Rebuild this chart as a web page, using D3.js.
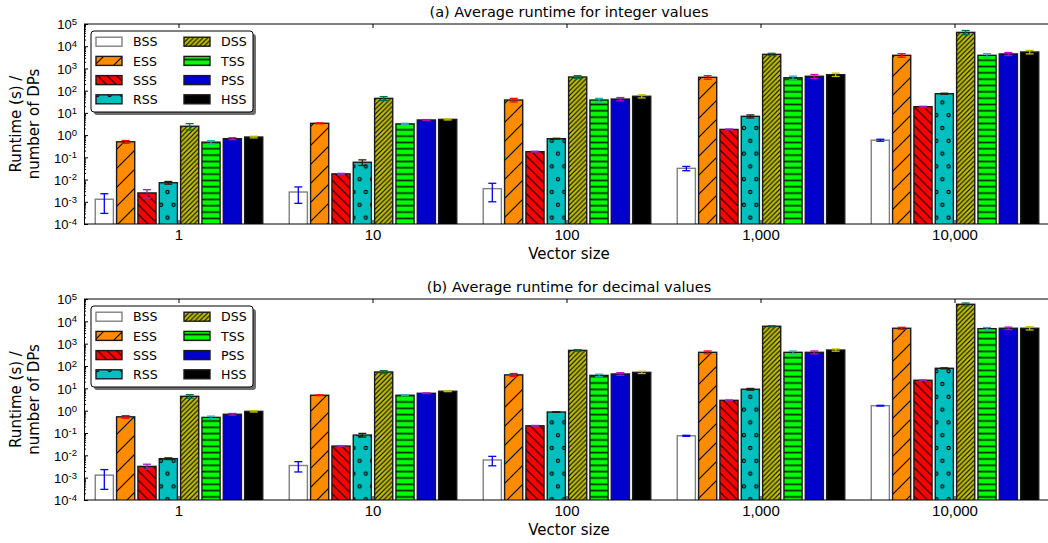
<!DOCTYPE html>
<html>
<head>
<meta charset="utf-8">
<script src="https://cdn.jsdelivr.net/npm/d3@7"></script>
<style>
  body { margin: 0; background: #fff; }
  svg { display: block; font-family: "DejaVu Sans", sans-serif; }
</style>
</head>
<body>
<div id="chart"></div>
<script>
const sizes = ["1", "10", "100", "1,000", "10,000"];
const methods = ["BSS", "ESS", "SSS", "RSS", "DSS", "TSS", "PSS", "HSS"];
const fills = ["#ffffff", "#ff8c00", "#ff0000", "#00bfbf", "#bfbf00", "#00ff00", "#0000cd", "#000000"];
const errColors = ["#0000ff", "#ff0000", "#a020c0", "#222200", "#007040", "#20b0b0", "#c000c0", "#c0c000"];
const hatches = ["", "/", "\\", "o", "////", "-", "", ""];

// one row per method (BSS..HSS), one column per vector size
const intMean = [
  [1.3e-3, 2.75e-3, 3.9e-3, 0.032, 0.59],
  [0.50, 3.4, 38, 400, 3900],
  [2.5e-3, 0.018, 0.18, 1.8, 19],
  [7.2e-3, 0.060, 0.69, 7.0, 73],
  [2.5, 45, 412, 4300, 42000],
  [0.48, 3.2, 38, 380, 3900],
  [0.69, 4.8, 42, 445, 4500],
  [0.82, 5.1, 56, 525, 5500]
];
const intErr = [
  [1.0e-3, 1.9e-3, 2.9e-3, 0.007, 0.06],
  [0.07, 0.15, 7, 70, 700],
  [1.0e-3, 0.001, 0.008, 0.08, 0.8],
  [1.0e-3, 0.017, 0.03, 1.1, 4],
  [0.8, 9, 60, 500, 9000],
  [0.08, 0.2, 7, 70, 700],
  [0.07, 0.2, 7, 90, 700],
  [0.07, 0.3, 9, 90, 1000]
];
const decMean = [
  [1.3e-3, 3.5e-3, 6.2e-3, 0.075, 1.67],
  [0.53, 4.9, 40, 410, 4900],
  [3.2e-3, 0.026, 0.21, 2.9, 23],
  [7.1e-3, 0.081, 0.87, 9.1, 79],
  [4.4, 54, 500, 6000, 58000],
  [0.50, 4.9, 38, 410, 4700],
  [0.69, 6.0, 44, 410, 4900],
  [0.93, 7.4, 52, 520, 4900]
];
const decErr = [
  [1.0e-3, 1.7e-3, 2.8e-3, 0.004, 0.06],
  [0.07, 0.2, 6, 60, 500],
  [0.8e-3, 0.001, 0.008, 0.1, 0.8],
  [0.6e-3, 0.015, 0.03, 0.8, 4],
  [0.8, 8, 40, 400, 8000],
  [0.07, 0.2, 5, 60, 600],
  [0.06, 0.2, 6, 60, 600],
  [0.06, 0.3, 6, 60, 800]
];
const exps = d3.range(-4, 6);

const width = 1048, height = 543;
const left = 84, right = 1054;

const svg = d3.select("#chart").append("svg")
    .attr("width", width).attr("height", height);
const defs = svg.append("defs");

// hatch patterns, drawn in page space so they run on across bars like matplotlib
methods.forEach((m, i) => {
    const h = hatches[i];
    if (!h) return;
    let w = 10, ht = 10;
    if (h === "/") { w = ht = 19; }
    if (h === "\\") { w = ht = 9.5; }
    if (h === "////") { w = ht = 4.75; }
    if (h === "-") { w = 10; ht = 6.33; }
    if (h === "o") { w = 12.4; ht = 25.6; }
    const p = defs.append("pattern").attr("id", "hatch-" + m)
        .attr("patternUnits", "userSpaceOnUse").attr("width", w).attr("height", ht);
    p.append("rect").attr("width", w).attr("height", ht).attr("fill", fills[i]);
    if (h === "/" || h === "////") {
        p.append("path").attr("d", `M0,${ht} L${w},0 M-2,2 L2,-2 M${w - 2},${ht + 2} L${w + 2},${ht - 2}`)
            .attr("stroke", "#000").attr("stroke-width", 1.1);
    } else if (h === "\\") {
        p.append("path").attr("d", `M0,0 L${w},${ht} M-2,${ht - 2} L2,${ht + 2} M${w - 2},-2 L${w + 2},2`)
            .attr("stroke", "#000").attr("stroke-width", 1.1);
    } else if (h === "-") {
        p.append("line").attr("x1", 0).attr("x2", w).attr("y1", 3.2).attr("y2", 3.2)
            .attr("stroke", "#062806").attr("stroke-width", 1.7);
    } else if (h === "o") {
        [[0, 0], [w, 0], [0, ht], [w, ht], [w / 2, ht / 2]].forEach(([cx, cy]) =>
            p.append("circle").attr("cx", cx).attr("cy", cy).attr("r", 1.6)
                .attr("fill", "none").attr("stroke", "#000").attr("stroke-width", 1.1));
    }
});

const fillOf = i => hatches[i] ? `url(#hatch-${methods[i]})` : fills[i];
const edgeOf = i => i === 0 ? "#808080" : "#1a1a1a";

const x0 = d3.scaleBand().domain(sizes).range([left - 2, right - 2]).paddingInner(0.12).paddingOuter(0.06);
const x1 = d3.scaleBand().domain(methods).range([0, x0.bandwidth()]).paddingInner(0.15).paddingOuter(0.075);

function drawPanel(top, bottom, title, means, errs, tag) {
    const y = d3.scaleLog().domain([1e-4, 1e5]).range([bottom, top]);
    const g = svg.append("g");

    defs.append("clipPath").attr("id", "clip-" + tag)
        .append("rect").attr("x", left).attr("y", top).attr("width", right - left).attr("height", bottom - top);

    const rows = sizes.flatMap((s, j) => methods.map((m, i) => ({ s, m, i, v: means[i][j], e: errs[i][j] })));

    const plot = g.append("g").attr("clip-path", `url(#clip-${tag})`);
    plot.selectAll("rect.bar").data(rows).enter().append("rect").attr("class", "bar")
        .attr("x", d => x0(d.s) + x1(d.m))
        .attr("y", d => y(d.v))
        .attr("width", x1.bandwidth())
        .attr("height", d => bottom - y(d.v) + 3)
        .attr("fill", d => fillOf(d.i))
        .attr("stroke", d => edgeOf(d.i))
        .attr("stroke-width", 1.4);

    const eb = plot.selectAll("g.err").data(rows).enter().append("g").attr("class", "err")
        .attr("stroke", d => errColors[d.i]).attr("stroke-width", 1.3);
    const cx = d => x0(d.s) + x1(d.m) + x1.bandwidth() / 2;
    const lo = d => y(Math.max(d.v - d.e, 1e-6));
    const hi = d => y(d.v + d.e);
    eb.append("line").attr("x1", cx).attr("x2", cx).attr("y1", lo).attr("y2", hi);
    eb.append("line").attr("x1", d => cx(d) - 4).attr("x2", d => cx(d) + 4).attr("y1", lo).attr("y2", lo);
    eb.append("line").attr("x1", d => cx(d) - 4).attr("x2", d => cx(d) + 4).attr("y1", hi).attr("y2", hi);

    // left axis with 10^k labels
    const yAxis = g.append("g").attr("transform", `translate(${left},0)`)
        .call(d3.axisLeft(y).tickValues(exps.map(k => Math.pow(10, k)))
            .tickSizeInner(-4).tickSizeOuter(0).tickPadding(7).tickFormat(""));
    yAxis.selectAll(".tick text").each(function (d) {
        const t = d3.select(this).attr("font-size", 13).attr("fill", "#000").attr("dy", "0.36em");
        t.append("tspan").text("10");
        t.append("tspan").attr("dy", "-0.45em").attr("font-size", 9.5).text(Math.round(Math.log10(d)));
    });
    const minors = exps.slice(0, -1).flatMap(k => d3.range(2, 10).map(m => m * Math.pow(10, k)));
    g.append("g").attr("transform", `translate(${left},0)`)
        .call(d3.axisLeft(y).tickValues(minors).tickSizeInner(-2).tickSizeOuter(0).tickFormat(""))
        .select(".domain").remove();

    const xAxis = g.append("g").attr("transform", `translate(0,${bottom})`)
        .call(d3.axisBottom(x0).tickSizeInner(-4).tickSizeOuter(0).tickPadding(5));
    xAxis.select(".domain").attr("d", `M${left},0H${right}`);
    xAxis.selectAll(".tick text").attr("font-size", 15).attr("fill", "#000");
    const topAxis = g.append("g").attr("transform", `translate(0,${top})`)
        .call(d3.axisTop(x0).tickSizeInner(-4).tickSizeOuter(0).tickFormat(""));
    topAxis.select(".domain").attr("d", `M${left},0H${right}`);
    g.selectAll(".domain").attr("stroke", "#000");
    g.selectAll(".tick line").attr("stroke", "#000");

    g.append("text").attr("x", (left + right) / 2).attr("y", top - 7)
        .attr("text-anchor", "middle").attr("font-size", 14.5).text(title);
    g.append("text").attr("x", (left + right) / 2).attr("y", bottom + 34.5)
        .attr("text-anchor", "middle").attr("font-size", 15).text("Vector size");

    const yl = g.append("text").attr("transform", `translate(0,${(top + bottom) / 2}) rotate(-90)`)
        .attr("text-anchor", "middle").attr("font-size", 15);
    yl.append("tspan").attr("x", 0).attr("y", 21).text("Runtime (s) /");
    yl.append("tspan").attr("x", 0).attr("dy", 18).text("number of DPs");

    // legend
    const lg = g.append("g").attr("transform", `translate(${left + 7},${top + 7})`);
    lg.append("rect").attr("x", 3).attr("y", 3).attr("width", 162).attr("height", 81).attr("rx", 3)
        .attr("fill", "#6e6e6e");
    lg.append("rect").attr("width", 162).attr("height", 81).attr("rx", 3)
        .attr("fill", "#fff").attr("stroke", "#000").attr("stroke-width", 1);
    methods.forEach((m, i) => {
        const col = i < 4 ? 0 : 1, row = i % 4;
        const cy = 10.7 + row * 19.2;
        lg.append("rect").attr("x", 5 + col * 88).attr("y", cy - 4.5).attr("width", 26).attr("height", 9)
            .attr("fill", fillOf(i)).attr("stroke", edgeOf(i)).attr("stroke-width", 1.4);
        lg.append("text").attr("x", 42 + col * 88).attr("y", cy + 4.6)
            .attr("font-size", 12.6).text(m);
    });
}

drawPanel(24, 224, "(a) Average runtime for integer values", intMean, intErr, "a");
drawPanel(299, 500, "(b) Average runtime for decimal values", decMean, decErr, "b");
</script>
</body>
</html>
